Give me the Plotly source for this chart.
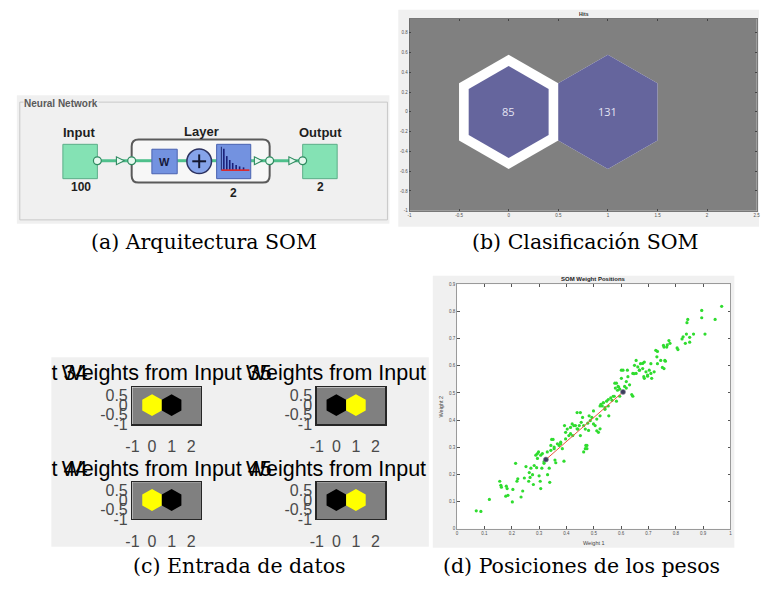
import plotly.graph_objects as go
import math

W, H = 763, 594

# ------------------------------------------------------------------ data
# (a) network architecture
arch_input_size = "100"
arch_layer_size = "2"
arch_output_size = "2"

# (b) SOM hits
neuron_x = [0, 1]
neuron_y = [0, 0]
hits = [85, 131]
hits_x_ticks = [-1, -0.5, 0, 0.5, 1, 1.5, 2, 2.5]
hits_y_ticks = [-1, -0.8, -0.6, -0.4, -0.2, 0, 0.2, 0.4, 0.6, 0.8]

# (c) weight planes (1 = high / yellow, 0 = low / black)
plane_values = [[1, 0], [0, 1], [1, 0], [0, 1]]
plane_x_ticks = [-1, 0, 1, 2]
plane_y_ticks = [-1, -0.5, 0, 0.5]
title_numbers_top = [34, 35, 36]
title_numbers_bottom = [44, 45, 46]

# (d) SOM weight positions
weight1 = [0.070, 0.087, 0.118, 0.156, 0.160, 0.162, 0.180, 0.183, 0.178, 0.186,
           0.202, 0.204, 0.219, 0.222, 0.214, 0.234, 0.240, 0.246, 0.252, 0.262,
           0.264, 0.267, 0.270, 0.276, 0.279, 0.282, 0.288, 0.291, 0.294, 0.298,
           0.300, 0.304, 0.306, 0.310, 0.312, 0.318, 0.331, 0.337, 0.339, 0.343,
           0.346, 0.351, 0.355, 0.358, 0.361, 0.367, 0.373, 0.379, 0.385, 0.391,
           0.393, 0.397, 0.403, 0.409, 0.415, 0.421, 0.423, 0.433, 0.439, 0.442,
           0.447, 0.451, 0.454, 0.459, 0.463, 0.469, 0.471, 0.475, 0.478, 0.483,
           0.493, 0.499, 0.505, 0.511, 0.517, 0.523, 0.526, 0.531, 0.535, 0.541,
           0.547, 0.553, 0.555, 0.562, 0.567, 0.575, 0.577, 0.579, 0.583, 0.587,
           0.591, 0.595, 0.601, 0.613, 0.619, 0.623, 0.625, 0.631, 0.639, 0.647,
           0.655, 0.661, 0.667, 0.671, 0.679, 0.683, 0.685, 0.691, 0.697, 0.703,
           0.709, 0.712, 0.721, 0.727, 0.731, 0.733, 0.745, 0.751, 0.755, 0.757,
           0.760, 0.767, 0.775, 0.779, 0.805, 0.808, 0.823, 0.827, 0.835, 0.839,
           0.841, 0.844, 0.865, 0.895, 0.895, 0.907, 0.944, 0.968,
           0.851, 0.851, 0.769, 0.757, 0.733, 0.762, 0.709, 0.697, 0.685, 0.643,
           0.649, 0.607, 0.601,
           0.583, 0.589, 0.619, 0.655, 0.667, 0.679, 0.571, 0.553, 0.535, 0.523,
           0.541, 0.499, 0.511, 0.487, 0.451, 0.463, 0.481, 0.439, 0.427, 0.415,
           0.397, 0.379, 0.355, 0.343, 0.330, 0.306, 0.294, 0.318, 0.475, 0.469,
           0.523, 0.595, 0.643]
weight2 = [0.066, 0.064, 0.108, 0.175, 0.160, 0.153, 0.157, 0.148, 0.120, 0.123,
           0.099, 0.145, 0.175, 0.184, 0.241, 0.117, 0.139, 0.187, 0.229, 0.175,
           0.207, 0.189, 0.223, 0.199, 0.163, 0.233, 0.271, 0.225, 0.259, 0.283,
           0.195, 0.175, 0.148, 0.223, 0.277, 0.241, 0.199, 0.223, 0.171, 0.289,
           0.329, 0.329, 0.301, 0.253, 0.243, 0.313, 0.307, 0.319, 0.295, 0.249,
           0.380, 0.355, 0.367, 0.343, 0.373, 0.386, 0.343, 0.380, 0.428, 0.367,
           0.380, 0.343, 0.392, 0.410, 0.283, 0.367, 0.307, 0.295, 0.389, 0.416,
           0.410, 0.386, 0.380, 0.361, 0.355, 0.416, 0.458, 0.452, 0.464, 0.440,
           0.470, 0.452, 0.416, 0.482, 0.473, 0.488, 0.536, 0.518, 0.470, 0.510,
           0.522, 0.514, 0.584, 0.524, 0.518, 0.584, 0.560, 0.530, 0.494, 0.571,
           0.620, 0.596, 0.584, 0.608, 0.590, 0.560, 0.614, 0.578, 0.562, 0.584,
           0.608, 0.554, 0.578, 0.657, 0.633, 0.608, 0.620, 0.594, 0.675, 0.590,
           0.620, 0.669, 0.693, 0.683, 0.666, 0.660, 0.699, 0.707, 0.683, 0.717,
           0.759, 0.771, 0.717, 0.804, 0.777, 0.717, 0.771, 0.819,
           0.705, 0.687, 0.677, 0.669, 0.653, 0.617, 0.572, 0.566, 0.554, 0.572,
           0.602, 0.584, 0.554,
           0.536, 0.524, 0.542, 0.572, 0.584, 0.609, 0.488, 0.476, 0.464, 0.452,
           0.446, 0.434, 0.404, 0.398, 0.428, 0.380, 0.362, 0.368, 0.380, 0.350,
           0.331, 0.313, 0.295, 0.307, 0.283, 0.271, 0.277, 0.247, 0.307, 0.295,
           0.368, 0.488, 0.488]
neuron_w1 = [0.325, 0.607]
neuron_w2 = [0.255, 0.504]
pos_x_ticks = [0, 0.1, 0.2, 0.3, 0.4, 0.5, 0.6, 0.7, 0.8, 0.9, 1]
pos_y_ticks = [0, 0.1, 0.2, 0.3, 0.4, 0.5, 0.6, 0.7, 0.8, 0.9]

captions = ["(a) Arquitectura SOM", "(b) Clasificación SOM",
            "(c) Entrada de datos", "(d) Posiciones de los pesos"]

# ------------------------------------------------------------------ helpers
def X(p):
    return p / W


def Y(p):
    return 1 - p / H


def fmt(v):
    return f"{v:g}"


shapes = []
annotations = []


def rect(x0, y0, x1, y1, fill=None, line=None, width=1, layer="below"):
    shapes.append(dict(type="rect", xref="paper", yref="paper",
                       x0=X(x0), x1=X(x1), y0=Y(y1), y1=Y(y0),
                       fillcolor=fill if fill else "rgba(0,0,0,0)",
                       line=dict(color=line if line else "rgba(0,0,0,0)",
                                 width=width if line else 0),
                       layer=layer))


def seg(x0, y0, x1, y1, color, width, layer="above"):
    shapes.append(dict(type="line", xref="paper", yref="paper",
                       x0=X(x0), x1=X(x1), y0=Y(y0), y1=Y(y1),
                       line=dict(color=color, width=width), layer=layer))


def circ(cx, cy, r, fill, line, width=1, layer="above"):
    shapes.append(dict(type="circle", xref="paper", yref="paper",
                       x0=X(cx - r), x1=X(cx + r), y0=Y(cy + r), y1=Y(cy - r),
                       fillcolor=fill, line=dict(color=line, width=width),
                       layer=layer))


def path(pts, fill, line, width=1, layer="above"):
    d = "M " + " L ".join(f"{X(a):.5f},{Y(b):.5f}" for a, b in pts) + " Z"
    shapes.append(dict(type="path", xref="paper", yref="paper", path=d,
                       fillcolor=fill, line=dict(color=line, width=width),
                       layer=layer))


def rrect(x0, y0, x1, y1, r, fill, line, width):
    def P(a, b):
        return f"{X(a):.5f},{Y(b):.5f}"
    d = (f"M {P(x0 + r, y0)} L {P(x1 - r, y0)} Q {P(x1, y0)} {P(x1, y0 + r)} "
         f"L {P(x1, y1 - r)} Q {P(x1, y1)} {P(x1 - r, y1)} "
         f"L {P(x0 + r, y1)} Q {P(x0, y1)} {P(x0, y1 - r)} "
         f"L {P(x0, y0 + r)} Q {P(x0, y0)} {P(x0 + r, y0)} Z")
    shapes.append(dict(type="path", xref="paper", yref="paper", path=d,
                       fillcolor=fill, line=dict(color=line, width=width),
                       layer="above"))


def ann(text, x, y, size, color="#000", family="Liberation Sans", xanchor="center",
        yanchor="middle", angle=0, bg=None, xref="paper", yref="paper"):
    a = dict(text=text, showarrow=False, xref=xref, yref=yref,
             x=X(x) if xref == "paper" else x, y=Y(y) if yref == "paper" else y,
             xanchor=xanchor, yanchor=yanchor, textangle=angle,
             font=dict(size=size, color=color, family=family), borderpad=0)
    if bg:
        a["bgcolor"] = bg
    annotations.append(a)


def hexagon(cx, cy, r):
    xs, ys = [], []
    for k in range(7):
        ang = math.radians(90 + 60 * k)
        xs.append(cx + r * math.cos(ang))
        ys.append(cy + r * math.sin(ang))
    return xs, ys


fig = go.Figure()
HEX_R = 1 / math.sqrt(3)

# ------------------------------------------------------------------ panel backgrounds
rect(10, 95, 388, 226, fill="#f0f0f0")          # (a)
rect(397, 8, 763, 229, fill="#f0f0f0")          # (b)
rect(45, 362, 428, 555, fill="#f0f0f0")         # (c)
rect(432, 279, 738, 556, fill="#f0f0f0")        # (d)

# ------------------------------------------------------------------ (a) architecture diagram
rect(13, 102, 386, 222, line="#c8c8c8", width=1)
ann("<b>Neural Network</b>", 16, 103, 10, color="#5a5a5a", xanchor="left",
    bg="#f0f0f0")

green_fill, green_line = "#84e2b4", "#5cae88"
rect(56.7, 145, 91.7, 180, fill=green_fill, line=green_line, width=1, layer="above")
rect(300, 145, 335, 180, fill=green_fill, line=green_line, width=1, layer="above")
rrect(126.5, 140, 266.5, 184, 7, "#f7f7f7", "#5a5a5a", 2)

ly = 161.7
line_c = "#4fc08c"
for a, b in [(91.7, 126.5), (126.5, 147), (172.7, 182.5), (207.5, 212.7),
             (247.3, 266.5), (266.5, 300)]:
    seg(a, ly, b, ly, line_c, 3)

blue_fill, blue_line = "#7392e0", "#4a62b0"
rect(147, 150, 172.7, 175, fill=blue_fill, line=blue_line, width=1, layer="above")
circ(195, 162.3, 12.5, "#86a4ea", "#2c3260", 1.5)
seg(188, 162.3, 202, 162.3, "#141830", 2)
seg(195, 155.3, 195, 169.3, "#141830", 2)
rect(212.7, 145, 247.3, 180, fill=blue_fill, line=blue_line, width=1, layer="above")
seg(217.5, 147.5, 217.5, 171.5, "#1f2a70", 1)
for bx, top in [(220, 149.5), (223, 157), (226, 161), (229, 164), (232.5, 166),
                (236, 167.5), (240, 168.5)]:
    seg(bx, top, bx, 171, "#1a1f78", 1.6)
seg(217.5, 171.3, 246, 171.3, "#e02424", 1.6)

for ax_ in [115, 255, 290]:
    path([(ax_ - 4, ly - 4), (ax_ - 4, ly + 4), (ax_ + 4, ly)], "#e6f8ef", "#2f8a60", 1.1)
for cx in [91.7, 126.5, 266.5, 300]:
    circ(cx, ly, 4, "#e6f8ef", "#2f8a60", 1.2)

ann("<b>Input</b>", 73.5, 133, 13, color="#1e1e1e")
ann("<b>" + arch_input_size + "</b>", 75, 188, 12, color="#1e1e1e")
ann("<b>Layer</b>", 197, 132, 13, color="#1e1e1e")
ann("<b>" + arch_layer_size + "</b>", 230, 195, 12, color="#1e1e1e")
ann("<b>Output</b>", 318, 133, 13, color="#1e1e1e")
ann("<b>" + arch_output_size + "</b>", 318, 188, 12, color="#1e1e1e")
ann("<b>W</b>", 160, 162.8, 11, color="#16183a")

# ------------------------------------------------------------------ (b) SOM hits
rect(408.3, 17.3, 760.7, 212.7, fill="#808080")
maxhit = max(hits)
for cx, cy in zip(neuron_x, neuron_y):
    xs, ys = hexagon(cx, cy, HEX_R)
    fig.add_trace(go.Scatter(x=xs, y=ys, mode="lines", fill="toself",
                             fillcolor="#ffffff", line=dict(width=0),
                             hoverinfo="skip", xaxis="x", yaxis="y"))
for cx, cy, h in zip(neuron_x, neuron_y, hits):
    xs, ys = hexagon(cx, cy, HEX_R * math.sqrt(h / maxhit))
    fig.add_trace(go.Scatter(x=xs, y=ys, mode="lines", fill="toself",
                             fillcolor="#65659d", line=dict(width=0),
                             hoverinfo="skip", xaxis="x", yaxis="y"))
    ann(str(h), cx, cy, 11, color="#e4e4f4", family="Open Sans",
        xref="x", yref="y")
ann("<b>Hits</b>", 585, 12.5, 5, color="#333")

# ------------------------------------------------------------------ (c) weight planes
plane_boxes = [(127.3, 392.7, 196.8, 430), (314.3, 392.7, 383.8, 430),
               (127.3, 489.3, 196.8, 526.7), (314.3, 489.3, 383.8, 526.7)]
plane_colors = {1: "#ffff00", 0: "#000000"}
for i, (vals, box) in enumerate(zip(plane_values, plane_boxes)):
    rect(*box, fill="#808080")
    ax = str(i + 3)
    for cx, cy, v in zip(neuron_x, neuron_y, vals):
        xs, ys = hexagon(cx, cy, HEX_R)
        fig.add_trace(go.Scatter(x=xs, y=ys, mode="lines", fill="toself",
                                 fillcolor=plane_colors[v], line=dict(width=0),
                                 hoverinfo="skip", xaxis="x" + ax, yaxis="y" + ax))

# titles: full MATLAB titles centred over each plane (clipped to the panel)
cell_dx = plane_boxes[1][0] - plane_boxes[0][0]
c0 = (plane_boxes[0][0] + plane_boxes[0][2]) / 2
tx, ty, tt = [], [], []
for row_y, nums in [(379.5, title_numbers_top), (477.5, title_numbers_bottom)]:
    for k, num in enumerate(nums):
        tx.append(c0 + (k - 1) * cell_dx)
        ty.append(row_y)
        tt.append(f"Weights from Input {num}")
fig.add_trace(go.Scatter(x=tx, y=ty, text=tt, mode="text", cliponaxis=True,
                         textposition="middle center",
                         textfont=dict(size=21.5, color="#000000",
                                       family="Liberation Sans"),
                         hoverinfo="skip", xaxis="x7", yaxis="y7"))

# ------------------------------------------------------------------ (d) weight positions
rect(456.7, 287.7, 734, 536.7, fill="#ffffff")
fig.add_trace(go.Scatter(x=weight1, y=weight2, mode="markers",
                         marker=dict(size=3.2, color="#2fdc2f", line=dict(width=0)),
                         hoverinfo="skip", xaxis="x2", yaxis="y2"))
fig.add_trace(go.Scatter(x=neuron_w1, y=neuron_w2, mode="lines+markers",
                         line=dict(color="#e8563c", width=1),
                         marker=dict(size=5, color="#3c3c5c",
                                     line=dict(color="#8a8a9a", width=0.6)),
                         hoverinfo="skip", xaxis="x2", yaxis="y2"))
ann("<b>SOM Weight Positions</b>", 595.5, 281.8, 6, color="#222")
ann("Weight 1", 595.5, 551.5, 5.5, color="#444")
ann("Weight 2", 440.5, 412, 5.5, color="#444", angle=-90)

# ------------------------------------------------------------------ captions
cap_font = "DejaVu Serif"
ann(captions[0], 200, 245, 20.5, family=cap_font)
ann(captions[1], 587, 245, 20.5, family=cap_font)
ann(captions[2], 236, 575, 20.5, family=cap_font)
ann(captions[3], 583, 575, 20.5, family=cap_font)

# ------------------------------------------------------------------ axes
small_tick = dict(size=4.5, color="#505050", family="Liberation Sans")
layout_axes = dict(
    xaxis=dict(domain=[X(408.3), X(760.7)], range=[-1, 2.5], anchor="y",
               tickvals=hits_x_ticks, ticktext=[fmt(v) for v in hits_x_ticks],
               ticks="inside", ticklen=2, tickcolor="#444", tickfont=small_tick,
               showline=True, linecolor="#5a5a5a", linewidth=0.8, mirror="ticks",
               showgrid=False, zeroline=False, fixedrange=True),
    yaxis=dict(domain=[Y(212.7), Y(17.3)], range=[-1, 0.94], anchor="x",
               tickvals=hits_y_ticks, ticktext=[fmt(v) for v in hits_y_ticks],
               ticks="inside", ticklen=2, tickcolor="#444", tickfont=small_tick,
               showline=True, linecolor="#5a5a5a", linewidth=0.8, mirror="ticks",
               showgrid=False, zeroline=False, fixedrange=True),
    xaxis2=dict(domain=[X(456.7), X(734)], range=[0, 1], anchor="y2",
                tickvals=pos_x_ticks, ticktext=[fmt(v) for v in pos_x_ticks],
                ticks="inside", ticklen=2.5, tickcolor="#555", tickfont=small_tick,
                showline=True, linecolor="#9a9a9a", linewidth=1, mirror="ticks",
                showgrid=False, zeroline=False, fixedrange=True, tickangle=0),
    yaxis2=dict(domain=[Y(536.7), Y(287.7)], range=[0, 0.9], anchor="x2",
                tickvals=pos_y_ticks, ticktext=[fmt(v) for v in pos_y_ticks],
                ticks="inside", ticklen=2.5, tickcolor="#555", tickfont=small_tick,
                showline=True, linecolor="#9a9a9a", linewidth=1, mirror="ticks",
                showgrid=False, zeroline=False, fixedrange=True),
    xaxis7=dict(domain=[X(45), X(428)], range=[45, 428], anchor="y7",
                visible=False, fixedrange=True),
    yaxis7=dict(domain=[Y(555), Y(362)], range=[555, 362], anchor="x7",
                visible=False, fixedrange=True),
)
plane_tick = dict(size=16, color="#4a4a4a", family="Liberation Sans")
for i, (x0, y0, x1, y1) in enumerate(plane_boxes):
    n = str(i + 3)
    layout_axes["xaxis" + n] = dict(
        domain=[X(x0), X(x1)], range=[-1, 2.5], anchor="y" + n,
        tickvals=plane_x_ticks, ticktext=[fmt(v) for v in plane_x_ticks],
        ticks="", tickfont=plane_tick, tickangle=0, ticklabelstandoff=7,
        showline=True, linecolor="#262626", linewidth=1.5, mirror=True,
        showgrid=False, zeroline=False, fixedrange=True)
    layout_axes["yaxis" + n] = dict(
        domain=[Y(y1), Y(y0)], range=[-1, 0.94], anchor="x" + n,
        tickvals=plane_y_ticks, ticktext=[fmt(v) for v in plane_y_ticks],
        ticks="", tickfont=plane_tick,
        showline=True, linecolor="#262626", linewidth=1.5, mirror=True,
        showgrid=False, zeroline=False, fixedrange=True)

fig.update_layout(
    width=W, height=H, margin=dict(l=0, r=0, t=0, b=0, pad=0),
    paper_bgcolor="#ffffff", plot_bgcolor="rgba(0,0,0,0)",
    showlegend=False, shapes=shapes, annotations=annotations,
    **layout_axes)

fig.write_html("out.html", config={"displayModeBar": False, "staticPlot": True},
               post_script="document.body.style.margin='0px';")
